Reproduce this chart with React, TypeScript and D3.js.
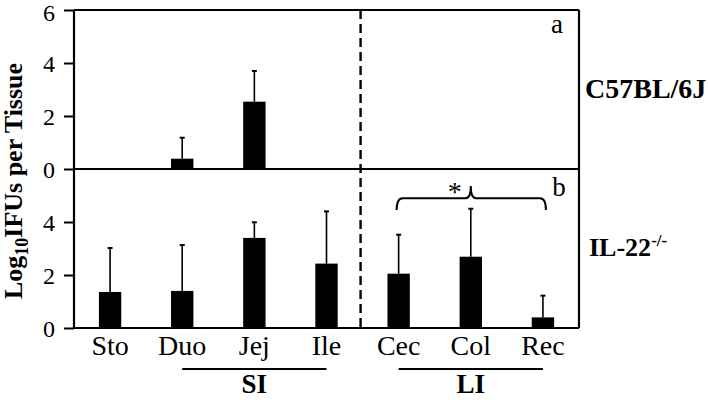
import { useEffect, useRef } from "react";
import * as d3 from "d3";

const WIDTH = 708;
const HEIGHT = 400;

const categories = ["Sto", "Duo", "Jej", "Ile", "Cec", "Col", "Rec"];
// panel a: C57BL/6J (mean, upper SD)
const wtMean = [0, 0.39, 2.54, 0, 0, 0, 0];
const wtErr = [0, 0.79, 1.16, 0, 0, 0, 0];
// panel b: IL-22-/-
const il22Mean = [1.36, 1.4, 3.4, 2.43, 2.05, 2.69, 0.4];
const il22Err = [1.66, 1.73, 0.59, 1.97, 1.47, 1.81, 0.82];

const topTicks = [0, 2, 4, 6];
const bottomTicks = [0, 2, 4];

const groups = [
  { label: "SI", from: "Duo", to: "Ile" },
  { label: "LI", from: "Cec", to: "Rec" },
];

const FONT = "'Liberation Serif', 'Times New Roman', serif";

export default function App() {
  const svgRef = useRef<SVGSVGElement | null>(null);

  useEffect(() => {
    if (!svgRef.current) return;
    const svg = d3.select(svgRef.current);
    svg.selectAll("*").remove();

    const left = 74;
    const right = 579;
    const top = 10;
    const mid = 169;
    const bottom = 328;

    const x = d3.scaleBand<string>().domain(categories).range([left, right]).padding(0);
    const cx = (c: string) => (x(c) ?? 0) + x.bandwidth() / 2;
    const barW = x.bandwidth() * 0.31;

    const yTop = d3.scaleLinear().domain([0, 6]).range([mid, top]);
    const yBot = d3.scaleLinear().domain([0, 6]).range([bottom, mid]);

    const g = svg.append("g");

    // bars + error bars for both panels
    const panels = [
      { y: yTop, mean: wtMean, err: wtErr },
      { y: yBot, mean: il22Mean, err: il22Err },
    ];
    panels.forEach((p) => {
      categories.forEach((c, i) => {
        const m = p.mean[i];
        if (m <= 0) return;
        const xc = cx(c);
        g.append("line")
          .attr("x1", xc)
          .attr("x2", xc)
          .attr("y1", p.y(m))
          .attr("y2", p.y(m + p.err[i]))
          .attr("stroke", "#000")
          .attr("stroke-width", 1.6);
        g.append("line")
          .attr("x1", xc - 2.5)
          .attr("x2", xc + 2.5)
          .attr("y1", p.y(m + p.err[i]))
          .attr("y2", p.y(m + p.err[i]))
          .attr("stroke", "#000")
          .attr("stroke-width", 2);
        g.append("rect")
          .attr("x", xc - barW / 2)
          .attr("y", p.y(m))
          .attr("width", barW)
          .attr("height", p.y(0) - p.y(m))
          .attr("fill", "#000");
      });
    });

    // frame
    const frame = g.append("g").attr("stroke", "#000").attr("stroke-width", 2.2).attr("fill", "none");
    frame.append("line").attr("x1", left).attr("x2", right).attr("y1", top).attr("y2", top);
    frame.append("line").attr("x1", left).attr("x2", right).attr("y1", mid).attr("y2", mid);
    frame.append("line").attr("x1", left).attr("x2", right).attr("y1", bottom).attr("y2", bottom);
    frame.append("line").attr("x1", left).attr("x2", left).attr("y1", top).attr("y2", bottom);
    frame.append("line").attr("x1", right).attr("x2", right).attr("y1", top).attr("y2", bottom);

    // dashed separator between small and large intestine
    const sep = (cx("Ile") + cx("Cec")) / 2 - 2;
    g.append("line")
      .attr("x1", sep)
      .attr("x2", sep)
      .attr("y1", top)
      .attr("y2", bottom)
      .attr("stroke", "#000")
      .attr("stroke-width", 2.4)
      .attr("stroke-dasharray", "9,5");

    // y axes
    const axisTop = g.append("g").attr("transform", `translate(${left},0)`)
      .call(d3.axisLeft(yTop).tickValues(topTicks).tickSize(10).tickFormat(d3.format("d")));
    const axisBot = g.append("g").attr("transform", `translate(${left},0)`)
      .call(d3.axisLeft(yBot).tickValues(bottomTicks).tickSize(10).tickFormat(d3.format("d")));
    [axisTop, axisBot].forEach((a) => {
      a.select(".domain").remove();
      a.selectAll(".tick line").attr("stroke", "#000").attr("stroke-width", 2);
      a.selectAll(".tick text")
        .attr("x", -19)
        .attr("dy", (d: any) => (d === 6 ? "0.42em" : "0.34em"))
        .style("font-family", FONT)
        .style("font-size", "24px")
        .attr("fill", "#000");
    });

    // x labels
    categories.forEach((c) => {
      g.append("text")
        .attr("x", cx(c))
        .attr("y", 355)
        .attr("text-anchor", "middle")
        .style("font-family", FONT)
        .style("font-size", "28px")
        .text(c);
    });

    // group lines
    groups.forEach((gr) => {
      const x1 = cx(gr.from);
      const x2 = cx(gr.to);
      g.append("line")
        .attr("x1", x1)
        .attr("x2", x2)
        .attr("y1", 369)
        .attr("y2", 369)
        .attr("stroke", "#000")
        .attr("stroke-width", 2);
      g.append("text")
        .attr("x", (x1 + x2) / 2)
        .attr("y", 393)
        .attr("text-anchor", "middle")
        .style("font-family", FONT)
        .style("font-size", "27px")
        .style("font-weight", "bold")
        .text(gr.label);
    });

    // significance bracket Cec – Rec
    const bx1 = cx("Cec") - 2;
    const bx2 = cx("Rec") + 3;
    const bxm = cx("Col");
    const yEnd = yBot(4.45);
    const yLine = yBot(4.9);
    const yPeak = yBot(5.36);
    const path = d3.path();
    path.moveTo(bx1, yEnd);
    path.quadraticCurveTo(bx1, yLine, bx1 + 6, yLine);
    path.lineTo(bxm - 5, yLine);
    path.quadraticCurveTo(bxm, yLine, bxm, yPeak);
    path.quadraticCurveTo(bxm, yLine, bxm + 5, yLine);
    path.lineTo(bx2 - 6, yLine);
    path.quadraticCurveTo(bx2, yLine, bx2, yEnd);
    g.append("path")
      .attr("d", path.toString())
      .attr("fill", "none")
      .attr("stroke", "#000")
      .attr("stroke-width", 2);
    g.append("text")
      .attr("x", bxm - 16)
      .attr("y", yPeak + 15)
      .attr("text-anchor", "middle")
      .style("font-family", FONT)
      .style("font-size", "28px")
      .text("*");

    // panel letters
    g.append("text")
      .attr("x", 557)
      .attr("y", 33)
      .attr("text-anchor", "middle")
      .style("font-family", FONT)
      .style("font-size", "27px")
      .text("a");
    g.append("text")
      .attr("x", 559)
      .attr("y", 196)
      .attr("text-anchor", "middle")
      .style("font-family", FONT)
      .style("font-size", "27px")
      .text("b");

    // strain labels
    g.append("text")
      .attr("x", 585)
      .attr("y", 98)
      .style("font-family", FONT)
      .style("font-size", "28px")
      .style("font-weight", "bold")
      .text("C57BL/6J");
    const il = g.append("text")
      .attr("x", 589)
      .attr("y", 256)
      .style("font-family", FONT)
      .style("font-size", "26px")
      .style("font-weight", "bold");
    il.append("tspan").text("IL-22");
    il.append("tspan").attr("dy", -10).style("font-size", "17px").text("-/-");

    // y title
    const yt = g.append("text")
      .attr("transform", `translate(22,181) rotate(-90)`)
      .attr("text-anchor", "middle")
      .style("font-family", FONT)
      .style("font-size", "26px")
      .style("font-weight", "bold");
    yt.append("tspan").text("Log");
    yt.append("tspan").attr("dy", 6).style("font-size", "18px").text("10");
    yt.append("tspan").attr("dy", -6).text("IFUs per Tissue");
  }, []);

  return (
    <div style={{ position: "absolute", left: 0, top: 0 }}>
      <svg ref={svgRef} width={WIDTH} height={HEIGHT} style={{ display: "block", background: "#fff" }} />
    </div>
  );
}
